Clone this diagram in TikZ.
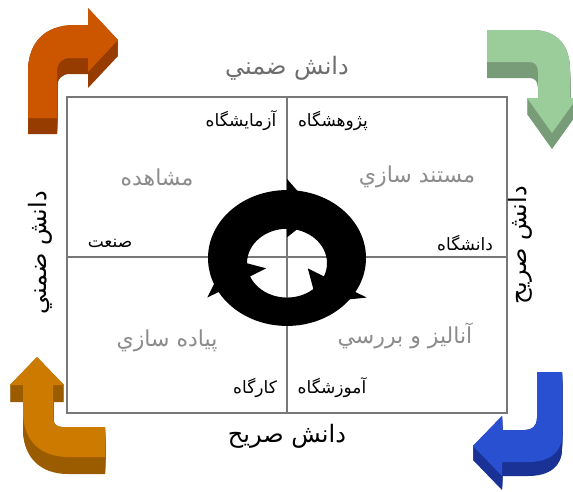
\documentclass[tikz,border=0pt]{standalone}
\usepackage{fontspec}
\newfontfamily\fa[Script=Arabic]{DejaVu Sans}
\TeXXeTstate=1
\definecolor{boxgray}{RGB}{120,120,120}
\definecolor{lightlab}{RGB}{110,110,110}
\definecolor{midlab}{RGB}{140,140,140}
\definecolor{orangeF}{RGB}{204,85,0}
\definecolor{orangeD}{RGB}{150,60,0}
\definecolor{greenF}{RGB}{155,205,155}
\definecolor{greenD}{RGB}{120,155,120}
\definecolor{goldF}{RGB}{204,122,0}
\definecolor{goldD}{RGB}{155,92,0}
\definecolor{blueF}{RGB}{40,80,208}
\definecolor{blueD}{RGB}{26,50,150}
\newcommand\myArrTL[1]{\fill[#1] (28,118) -- (28,72) .. controls (28,42) and (45,25) .. (75,25) -- (88,25) -- (88,8) -- (118,40) -- (88,72) -- (88,58) -- (70,58) .. controls (62,58) and (57,63) .. (57,72) -- (57,118) -- cycle;}
\newcommand\myArrTR[1]{\fill[#1] (487,30) -- (532,30) .. controls (557,30) and (570,45) .. (570,70) -- (570,98) -- (577,98) -- (552,133) -- (527,98) -- (538,98) -- (538,72) .. controls (538,66) and (535,62) .. (530,62) -- (487,62) -- cycle;}
\newcommand\myArrBL[1]{\fill[#1] (10,385) -- (37,357) -- (64,385) -- (53,385) -- (53,417) .. controls (53,423) and (56,427) .. (62,427) -- (105,427) -- (105,457) -- (68,457) .. controls (40,457) and (23,440) .. (23,412) -- (23,385) -- cycle;}
\newcommand\myArrBR[1]{\fill[#1] (537,372) -- (562,372) -- (562,435) .. controls (562,452) and (550,462) .. (528,462) -- (502,462) -- (502,476) -- (473,446) -- (502,416) -- (502,430) -- (525,430) .. controls (532,430) and (537,426) .. (537,418) -- cycle;}
\tikzset{
  corner/.style={font=\fa\fontsize{17}{19}\selectfont, text=black, inner sep=0pt},
  side/.style={font=\fa\fontsize{24}{26}\selectfont, text=black, inner sep=0pt},
  mid/.style={font=\fa\fontsize{22}{24}\selectfont, text=midlab, fill=white, inner sep=2pt},
  frame/.style={draw=boxgray, line width=1.3pt}
}
\begin{document}
\begin{tikzpicture}[x=1pt,y=-1pt]
\useasboundingbox (0,0) rectangle (573,491);
\fill[white] (0,0) rectangle (573,491);
% corner arrows
\foreach \d in {0,1,...,16} {\myArrTL{orangeD, shift={(0,\d)}}}
\myArrTL{orangeF}
\foreach \d in {0,1,...,16} {\myArrTR{greenD, shift={(0,\d)}}}
\myArrTR{greenF}
\foreach \d in {0,1,...,17} {\myArrBL{goldD, shift={(0,\d)}}}
\myArrBL{goldF}
\foreach \d in {0,1,...,14} {\myArrBR{blueD, shift={(0,\d)}}}
\myArrBR{blueF}
% frame
\coordinate (tl) at (67,97);
\coordinate (br) at (507,413);
\coordinate (mt) at (287,97);
\coordinate (mb) at (287,413);
\coordinate (ml) at (67,257);
\coordinate (mr) at (507,257);
\draw[frame] (tl) rectangle (br);
\draw[frame] (mt) -- (mb);
\draw[frame] (ml) -- (mr);
% labels
\node[mid] (obs) at (157,177) {\beginR مشاهده\endR};
\node[mid] (doc) at (417,177) {\beginR مستند سازي\endR};
\node[mid] (imp) at (167,341) {\beginR پياده سازي\endR};
\node[mid] (ana) at (405,336) {\beginR آناليز و بررسي\endR};
\node[corner] (lab) at (241,121) {\beginR آزمايشگاه\endR};
\node[corner] (res) at (333,121) {\beginR پژوهشگاه\endR};
\node[corner] (ind) at (110,243) {\beginR صنعت\endR};
\node[corner] (uni) at (465,243) {\beginR دانشگاه\endR};
\node[corner] (wsh) at (255,388) {\beginR كارگاه\endR};
\node[corner] (sch) at (332,388) {\beginR آموزشگاه\endR};
\node[side, text=lightlab] (tacitT) at (287,68) {\beginR دانش ضمني\endR};
\node[side] (explB) at (287,436) {\beginR دانش صريح\endR};
\node[side, rotate=90] (tacitL) at (40,253) {\beginR دانش ضمني\endR};
\node[side, rotate=90] (explR) at (520,245) {\beginR دانش صريح\endR};
% cycle symbol
\begin{scope}[shift={(287,258)}, yscale=-0.86]
  \fill[black, even odd rule] (0,0) circle[radius=79] (0,-6) circle[radius=40];
  \foreach \t in {90,210,330} {
    \fill[black] (\t:24) -- (\t:92) -- (\t-30:60) -- cycle;
  }
\end{scope}
\end{tikzpicture}
\end{document}
